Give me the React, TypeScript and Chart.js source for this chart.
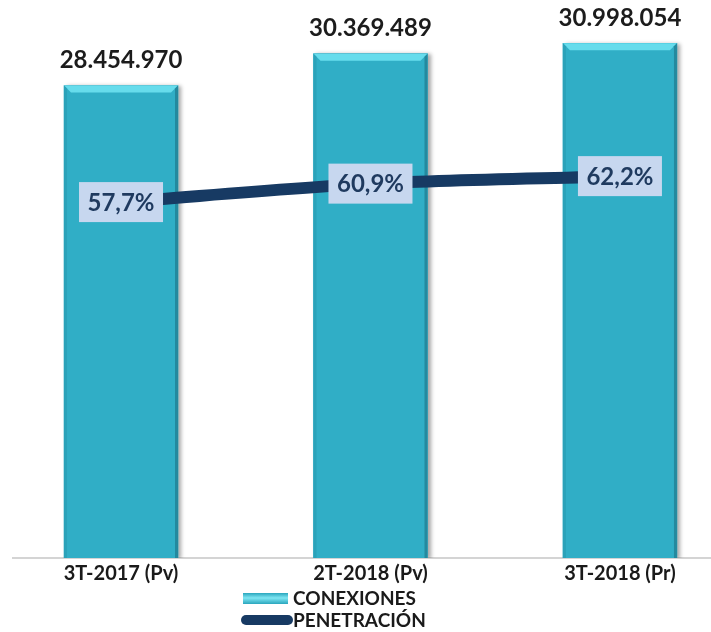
import React, { useEffect, useRef } from "react";
import { Chart, registerables } from "chart.js";

Chart.register(...registerables);

const categories = ["3T-2017 (Pv)", "2T-2018 (Pv)", "3T-2018 (Pr)"];
const conexiones = [28454970, 30369489, 30998054];
const penetracion = [57.7, 60.9, 62.2];
const seriesNames = ["CONEXIONES", "PENETRACIÓN"];

const fmtInt = (v: number) => v.toString().replace(/\B(?=(\d{3})+(?!\d))/g, ".");
const fmtPct = (v: number) => v.toFixed(1).replace(".", ",") + "%";

const BAR = "#30aec6";
const BAR_TOP = "#66dcec";
const BAR_LEFT = "#2ba2b9";
const BAR_RIGHT = "#24899e";
const LINE = "#173a63";

const decorPlugin = {
  id: "decor",
  beforeDatasetDraw(chart: any, args: any) {
    if (args.index !== 0) return;
    const ctx = chart.ctx;
    ctx.save();
    ctx.shadowColor = "rgba(0,0,0,0.35)";
    ctx.shadowBlur = 4;
    ctx.shadowOffsetX = 3;
    ctx.shadowOffsetY = 1;
  },
  afterDatasetDraw(chart: any, args: any) {
    if (args.index !== 0) return;
    const ctx = chart.ctx;
    ctx.restore();
    const meta = chart.getDatasetMeta(0);
    meta.data.forEach((el: any) => {
      const { x, y, base, width } = el.getProps(["x", "y", "base", "width"], true);
      const l = x - width / 2;
      const r = x + width / 2;
      const b = 7;
      ctx.save();
      ctx.fillStyle = BAR_TOP;
      ctx.beginPath();
      ctx.moveTo(l, y);
      ctx.lineTo(r, y);
      ctx.lineTo(r - b, y + b);
      ctx.lineTo(l + b, y + b);
      ctx.closePath();
      ctx.fill();
      ctx.fillStyle = BAR_LEFT;
      ctx.beginPath();
      ctx.moveTo(l, y);
      ctx.lineTo(l + 3, y + 3);
      ctx.lineTo(l + 3, base);
      ctx.lineTo(l, base);
      ctx.closePath();
      ctx.fill();
      ctx.fillStyle = BAR_RIGHT;
      ctx.beginPath();
      ctx.moveTo(r, y);
      ctx.lineTo(r - 3, y + 3);
      ctx.lineTo(r - 3, base);
      ctx.lineTo(r, base);
      ctx.closePath();
      ctx.fill();
      ctx.restore();
    });
  },
  afterDatasetsDraw(chart: any) {
    const ctx = chart.ctx;
    ctx.save();
    ctx.textAlign = "center";
    ctx.textBaseline = "middle";
    ctx.font = "bold 24px Lato";
    ctx.fillStyle = "#1c1c1c";
    chart.getDatasetMeta(0).data.forEach((el: any, i: number) => {
      ctx.fillText(fmtInt(conexiones[i]), el.x, el.y - 25);
    });
    chart.getDatasetMeta(1).data.forEach((el: any, i: number) => {
      const w = 84;
      const h = 40;
      ctx.fillStyle = "#c7d7ef";
      ctx.fillRect(el.x - w / 2, el.y - h / 2, w, h);
      ctx.fillStyle = "#1f3a5f";
      ctx.fillText(fmtPct(penetracion[i]), el.x, el.y + 1);
    });
    ctx.restore();
  },
  afterDraw(chart: any) {
    const ctx = chart.ctx;
    ctx.save();
    const g = ctx.createLinearGradient(0, 593, 0, 604);
    g.addColorStop(0, "#2aa6bd");
    g.addColorStop(0.45, "#7fe6f3");
    g.addColorStop(1, "#2aa6bd");
    ctx.fillStyle = g;
    ctx.fillRect(243, 593, 45, 11);
    ctx.strokeStyle = LINE;
    ctx.lineWidth = 10;
    ctx.lineCap = "round";
    ctx.beginPath();
    ctx.moveTo(246, 620);
    ctx.lineTo(288, 620);
    ctx.stroke();
    ctx.fillStyle = "#1a1a1a";
    ctx.font = "bold 19px Lato";
    ctx.textAlign = "left";
    ctx.textBaseline = "middle";
    ctx.fillText(seriesNames[0], 293, 599);
    ctx.fillText(seriesNames[1], 293, 621);
    ctx.restore();
  },
};

export default function App() {
  const ref = useRef<HTMLCanvasElement | null>(null);
  useEffect(() => {
    document.body.style.margin = "0";
    if (!ref.current) return;
    const chart = new Chart(ref.current, {
      type: "bar",
      data: {
        datasets: [
          {
            type: "bar",
            label: seriesNames[0],
            data: conexiones.map((v, i) => ({ x: i, y: v })),
            backgroundColor: BAR,
            barThickness: 114,
            yAxisID: "y",
            order: 1,
          } as any,
          {
            type: "line",
            label: seriesNames[1],
            data: penetracion.map((v, i) => ({ x: i, y: v })),
            borderColor: LINE,
            borderWidth: 12,
            pointRadius: 0,
            tension: 0.3,
            yAxisID: "y2",
            order: 0,
          } as any,
        ],
      },
      options: {
        animation: false,
        responsive: true,
        maintainAspectRatio: false,
        layout: { padding: { top: 10, left: 13, right: 0, bottom: 42 } },
        plugins: { legend: { display: false }, tooltip: { enabled: false } },
        scales: {
          x: {
            type: "linear",
            offset: false,
            bounds: "data",
            min: -0.433,
            max: 2.365,
            grid: { display: false, drawTicks: false, offset: false },
            border: { display: true, color: "#d4d4d4", width: 2 },
            afterBuildTicks: (s: any) => {
              s.ticks = categories.map((_, i) => ({ value: i }));
            },
            ticks: {
              callback: (v: any) => categories[v] ?? "",
              font: { family: "Lato", weight: "bold", size: 20 },
              color: "#1a1a1a",
              padding: 4,
              autoSkip: false,
              maxRotation: 0,
            },
          },
          y: { display: false, min: 0, max: 33000000 },
          y2: { display: false, min: -4, max: 91, position: "right" },
        },
      } as any,
      plugins: [decorPlugin],
    });
    return () => chart.destroy();
  }, []);
  return (
    <div style={{ width: 711, height: 632, position: "relative" }}>
      <canvas ref={ref} />
    </div>
  );
}
